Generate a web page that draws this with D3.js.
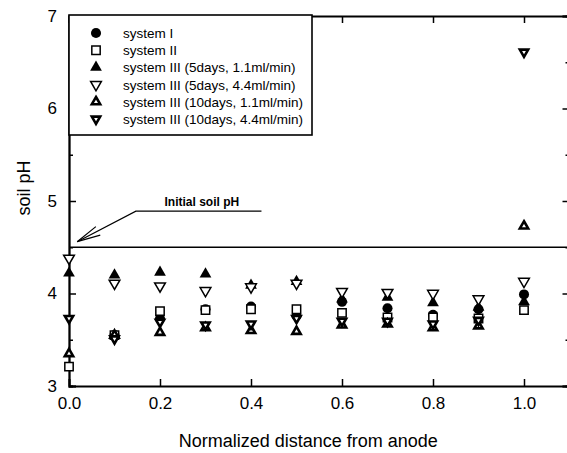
<!DOCTYPE html>
<html>
<head>
<meta charset="utf-8">
<script src="https://cdn.jsdelivr.net/npm/d3@7"></script>
<style>
  body { margin: 0; background: #fff; }
  svg { display: block; font-family: "Liberation Sans", Arial, sans-serif; }
</style>
</head>
<body>
<div id="chart"></div>
<script>
// normalized distance from anode
const xs = [0, 0.1, 0.2, 0.3, 0.4, 0.5, 0.6, 0.7, 0.8, 0.9, 1.0]

// soil pH per series (null = no point)
const sys1      = [null, 3.55, 3.73, 3.83, 3.86, 3.76, 3.91, 3.84, 3.77, 3.83, 3.99]
const sys2      = [3.21, 3.55, 3.81, 3.82, 3.83, 3.83, 3.79, 3.74, 3.74, 3.73, 3.82]
const sys3_5_11 = [4.23, 4.21, 4.24, 4.22, 4.10, 4.14, 3.95, 3.97, 3.91, 3.86, 3.92]
const sys3_5_44 = [4.37, 4.10, 4.07, 4.02, 4.06, 4.10, 4.01, 4.00, 3.99, 3.93, 4.12]
const sys3_10_11 = [3.36, 3.56, 3.59, 3.64, 3.61, 3.60, 3.67, 3.68, 3.64, 3.66, 4.74]
const sys3_10_44 = [3.72, 3.50, 3.68, 3.65, 3.66, 3.72, 3.69, 3.69, 3.66, 3.70, 6.60]

const seriesNames = [
    'system I',
    'system II',
    'system III (5days, 1.1ml/min)',
    'system III (5days, 4.4ml/min)',
    'system III (10days, 1.1ml/min)',
    'system III (10days, 4.4ml/min)'
]
const xTicks = [0, 0.2, 0.4, 0.6, 0.8, 1.0]
const yTicks = [3, 4, 5, 6, 7]
const yMinor = [3.5, 4.5, 5.5, 6.5]
const initialPH = 4.5

const width = 567, height = 453
const padding = { left: 69, right: -2.5, top: 16, bottom: 67 }

let svg = d3.select('#chart').append('svg')
    .attr('width', width)
    .attr('height', height)

let x = d3.scaleLinear()
    .domain([0, 1.1])
    .range([padding.left, width - padding.right])
let y = d3.scaleLinear()
    .domain([3, 7])
    .range([height - padding.bottom, padding.top])

// marker styles
let styles = [
    { sym: d3.symbolCircle,   rot: 0,   fill: '#000', sw: 0,   size: 80 },
    { sym: d3.symbolSquare,   rot: 0,   fill: '#fff', sw: 1.5, size: 70 },
    { sym: d3.symbolTriangle, rot: 0,   fill: '#000', sw: 0,   size: 60 },
    { sym: d3.symbolTriangle, rot: 180, fill: '#fff', sw: 1.5, size: 50 },
    { sym: d3.symbolTriangle, rot: 0,   fill: '#fff', sw: 2.6, size: 30 },
    { sym: d3.symbolTriangle, rot: 180, fill: '#fff', sw: 2.6, size: 30 }
]
let allSeries = [sys1, sys2, sys3_5_11, sys3_5_44, sys3_10_11, sys3_10_44]

// axes (ticks inward)
let axisB = d3.axisBottom(x).tickValues(xTicks).tickSize(-7).tickPadding(11).tickFormat(d3.format('.1f'))
let axisT = d3.axisTop(x).tickValues(xTicks).tickSize(-7).tickFormat('')
let axisL = d3.axisLeft(y).tickValues(yTicks).tickSize(-7).tickPadding(12).tickFormat(d3.format('d'))
let axisR = d3.axisRight(y).tickValues(yTicks).tickSize(-7).tickFormat('')
let axisLm = d3.axisLeft(y).tickValues(yMinor).tickSize(-4).tickFormat('')
let axisRm = d3.axisRight(y).tickValues(yMinor).tickSize(-4).tickFormat('')

svg.append('g').attr('transform', `translate(0, ${y(3)})`).call(axisB)
svg.append('g').attr('transform', `translate(0, ${y(7)})`).call(axisT)
svg.append('g').attr('transform', `translate(${x(0)}, 0)`).call(axisL)
svg.append('g').attr('transform', `translate(${x(1.1)}, 0)`).call(axisR)
svg.append('g').attr('transform', `translate(${x(0)}, 0)`).call(axisLm)
svg.append('g').attr('transform', `translate(${x(1.1)}, 0)`).call(axisRm)

svg.selectAll('.domain').attr('stroke', '#000').attr('stroke-width', 1.8)
svg.selectAll('.tick line').attr('stroke', '#000').attr('stroke-width', 1.5)
svg.selectAll('.tick text').attr('fill', '#000').attr('font-size', '17px')
    .attr('font-family', '"Liberation Sans", Arial, sans-serif')

// axis titles
svg.append('text')
    .attr('x', (x(0) + x(1.1)) / 2 - 11)
    .attr('y', 447)
    .attr('text-anchor', 'middle')
    .attr('font-size', '18px')
    .attr('fill', '#000')
    .text('Normalized distance from anode')
svg.append('text')
    .attr('transform', `translate(30, ${y(5.14)}) rotate(-90)`)
    .attr('text-anchor', 'middle')
    .attr('font-size', '18px')
    .attr('fill', '#000')
    .text('soil pH')

// initial soil pH line
svg.append('line')
    .attr('x1', x(0)).attr('x2', x(1.1))
    .attr('y1', y(initialPH)).attr('y2', y(initialPH))
    .attr('stroke', '#000').attr('stroke-width', 1.6)

// annotation with arrow
let tip = [x(0.018), y(4.56)]
let elbow = [x(0.147), y(4.89)]
svg.append('polyline')
    .attr('points', [tip, elbow, [x(0.423), y(4.89)]].map(p => p.join(',')).join(' '))
    .attr('fill', 'none').attr('stroke', '#000').attr('stroke-width', 1.2)
let ang = Math.atan2(elbow[1] - tip[1], elbow[0] - tip[0])
let headLen = 24, spread = 0.2
svg.append('polyline')
    .attr('points', [
        [tip[0] + headLen * Math.cos(ang - spread), tip[1] + headLen * Math.sin(ang - spread)],
        tip,
        [tip[0] + headLen * Math.cos(ang + spread), tip[1] + headLen * Math.sin(ang + spread)]
    ].map(p => p.join(',')).join(' '))
    .attr('fill', 'none').attr('stroke', '#000').attr('stroke-width', 1.2)
svg.append('text')
    .attr('x', x(0.292))
    .attr('y', y(4.95))
    .attr('text-anchor', 'middle')
    .attr('font-size', '12px')
    .attr('font-weight', 'bold')
    .attr('fill', '#000')
    .text('Initial soil pH')

// data points
allSeries.forEach((vals, si) => {
    let st = styles[si]
    let sym = d3.symbol().type(st.sym).size(st.size)
    svg.append('g')
        .selectAll('path')
        .data(vals.map((v, i) => [xs[i], v]).filter(d => d[1] !== null))
        .enter()
        .append('path')
        .attr('d', sym)
        .attr('transform', d => `translate(${x(d[0])}, ${y(d[1]) + (st.sym === d3.symbolTriangle ? (st.rot ? -1 : 1) : 0)}) rotate(${st.rot})`)
        .attr('fill', st.fill)
        .attr('stroke', '#000')
        .attr('stroke-width', st.sw)
})

// legend
let legend = svg.append('g')
legend.append('rect')
    .attr('x', x(0)).attr('y', 15)
    .attr('width', 243).attr('height', 120)
    .attr('fill', '#fff').attr('stroke', '#000').attr('stroke-width', 1.6)
seriesNames.forEach((name, i) => {
    let st = styles[i]
    let ly = 33 + i * 17.2
    legend.append('path')
        .attr('d', d3.symbol().type(st.sym).size(st.size)())
        .attr('transform', `translate(96, ${ly}) rotate(${st.rot})`)
        .attr('fill', st.fill)
        .attr('stroke', '#000')
        .attr('stroke-width', st.sw)
    legend.append('text')
        .attr('x', 123)
        .attr('y', ly + 5)
        .attr('font-size', '13.5px')
        .attr('fill', '#000')
        .text(name)
})
</script>
</body>
</html>
